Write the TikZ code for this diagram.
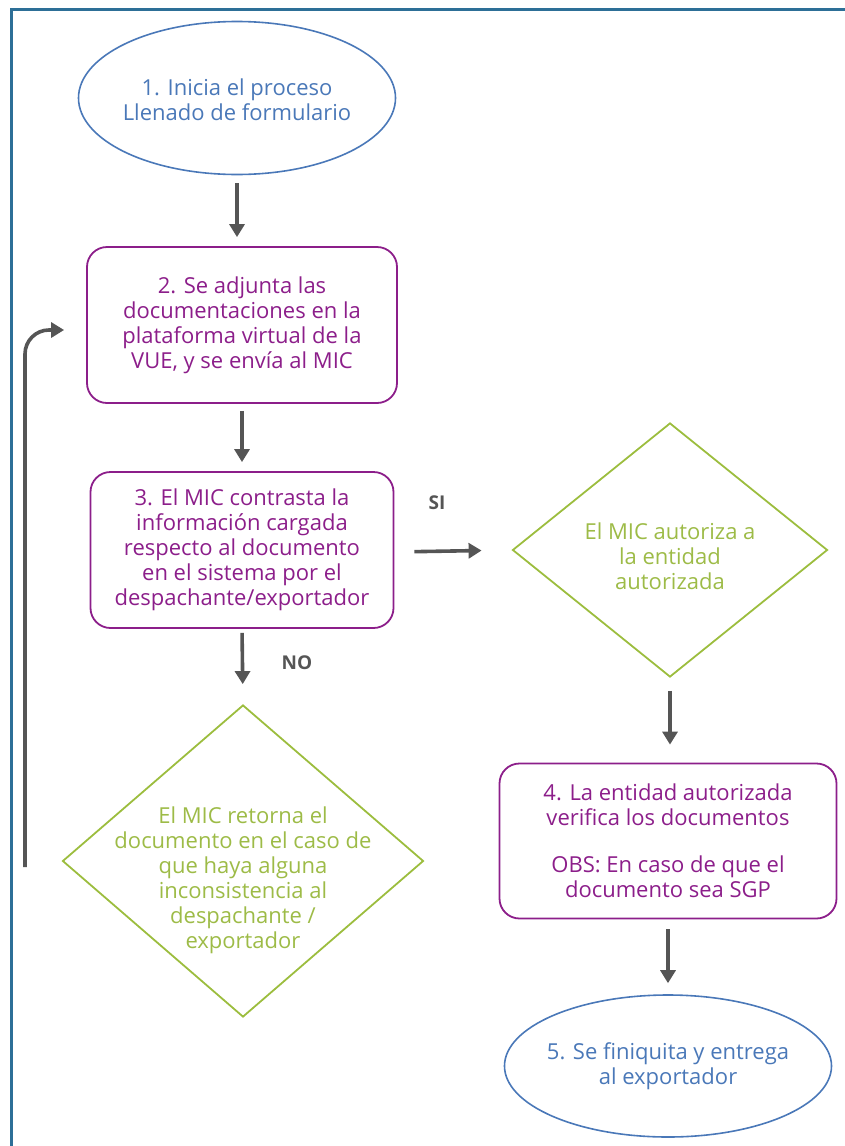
\documentclass[tikz,border=0pt]{standalone}
\usepackage{fontspec}
\setmainfont{Open Sans}
\usetikzlibrary{shapes.geometric,arrows.meta}
\definecolor{fblue}{HTML}{2D6F97}
\definecolor{eblue}{HTML}{4A78B8}
\definecolor{purp}{HTML}{8C1E8A}
\definecolor{grn}{HTML}{9CBD3E}
\definecolor{grntxt}{HTML}{9DBB47}
\definecolor{arrgray}{HTML}{555555}
\tikzset{
  txt/.style={font=\fontsize{22}{25}\selectfont, align=center},
  ovalnode/.style={ellipse, draw=eblue, line width=1.6pt, inner sep=0pt},
  otext/.style={txt, text=eblue},
  boxnode/.style={rectangle, rounded corners=20pt, draw=purp, line width=1.8pt, text=purp, txt, inner sep=0pt},
  dianode/.style={diamond, draw=grn, line width=1.8pt, inner sep=0pt},
  dtext/.style={txt, text=grntxt},
  arr/.style={draw=arrgray, line width=3.6pt, -{Triangle[length=13pt,width=15pt]}},
  lbl/.style={text=arrgray, font=\bfseries\fontsize{19}{22}\selectfont},
  frameline/.style={draw=fblue, line width=3pt}
}
\begin{document}
\begin{tikzpicture}[x=1pt,y=-1pt]
\useasboundingbox (0,0) rectangle (844,1146);
\draw[frameline] (11,1150) -- (11,9) -- (850,9);

\node[ovalnode, minimum width=317pt, minimum height=153pt] (e1) at (237,98) {};
\node[otext] (te1) at (237,100) {1. Inicia el proceso\\Llenado de formulario};
\node[boxnode, minimum width=310pt, minimum height=156pt] (b2) at (242,325) {2. Se adjunta las\\documentaciones en la\\plataforma virtual de la\\VUE, y se envía al MIC};
\node[boxnode, minimum width=303pt, minimum height=156pt] (b3) at (242,550) {3. El MIC contrasta la\\información cargada\\respecto al documento\\en el sistema por el\\despachante/exportador};
\node[dianode, minimum width=315pt, minimum height=254pt] (d1) at (670,550) {};
\node[dtext] (t1) at (670,556) {El MIC autoriza a\\la entidad\\autorizada};
\node[dianode, minimum width=361pt, minimum height=312pt] (d2) at (243,861) {};
\node[dtext] (t2) at (243,880) {El MIC retorna el\\documento en el caso de\\que haya alguna\\inconsistencia al\\despachante /\\exportador};
\node[boxnode, minimum width=337pt, minimum height=155pt] (b4) at (668,841) {4. La entidad autorizada\\verifica los documentos\\[22pt]OBS: En caso de que el\\documento sea SGP};
\node[ovalnode, minimum width=327pt, minimum height=142pt] (e5) at (668,1066) {};
\node[otext] (te5) at (668,1066) {5. Se finiquita y entrega\\al exportador};

\draw[arr, shorten <=8pt, shorten >=9pt] (e1.south) -- (e1.south |- b2.north);
\draw[arr, shorten <=7pt, shorten >=9pt] (b2.south) -- (b3.north);
\draw[arr, shorten <=20pt, shorten >=30pt] ([yshift=-2pt]b3.east) -- (b3.east -| d1.west);
\draw[arr, shorten <=4pt, shorten >=20pt] (b3.south) -- (d2.north);
\draw[arr, shorten <=13pt, shorten >=18pt] (d1.south) -- (d1.south |- b4.north);
\draw[arr, shorten <=10pt, shorten >=11pt] (b4.south) -- (b4.south |- e5.north);
\node[lbl] (si) at (437,503) {SI};
\node[lbl] (no) at (297,663) {NO};
\coordinate (lp) at (25,867);
\draw[arr, rounded corners=24pt] (lp) |- ([xshift=-22pt,yshift=-5pt]b2.west);
\end{tikzpicture}
\end{document}
